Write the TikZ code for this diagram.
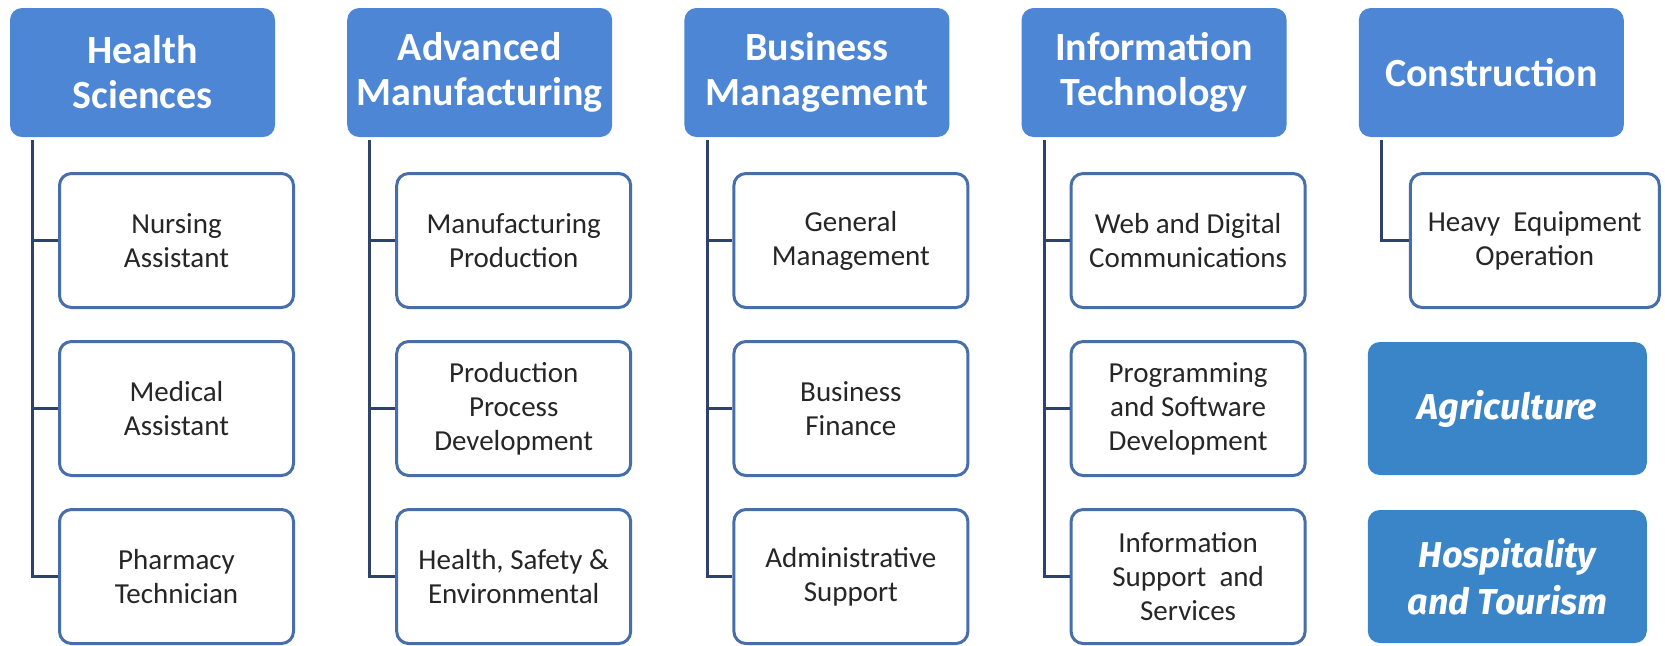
\documentclass[tikz,border=0pt]{standalone}
\usepackage{fontspec}
\setmainfont{Carlito}
\newfontfamily\extrafont{Fira Sans}
\usetikzlibrary{positioning}
\definecolor{headblue}{RGB}{76,134,212}
\definecolor{extrablue}{RGB}{58,132,200}
\definecolor{boxline}{RGB}{72,110,170}
\definecolor{linkline}{RGB}{46,66,106}
\definecolor{boxtext}{RGB}{38,38,38}
\tikzstyle{cluster} = [rectangle, rounded corners=6pt, minimum width=132.5pt, minimum height=64.5pt, inner sep=0pt, align=center, fill=headblue, text=white, font=\bfseries\fontsize{20}{22.5}\selectfont]
\tikzstyle{pathway} = [rectangle, rounded corners=6pt, minimum width=117pt, minimum height=67pt, inner sep=0pt, align=center, draw=boxline, line width=1.5pt, fill=white, text=boxtext, font=\fontsize{14.5}{17}\selectfont]
\tikzstyle{extra} = [rectangle, rounded corners=6pt, minimum width=139.5pt, minimum height=66.5pt, inner sep=0pt, align=center, fill=extrablue, text=white, font=\extrafont\bfseries\itshape\fontsize{18}{23.5}\selectfont]
\tikzstyle{link} = [line width=1.5pt, draw=linkline]

\begin{document}
\begin{tikzpicture}[node distance=84pt]
    \useasboundingbox (0,0) rectangle (832.5pt,-322.5pt);

    % Clusters
    \node (healthSci) [cluster] at (71.25pt,-36.25pt) {Health\\Sciences};
    \node (advManuf) [cluster, right of=healthSci, xshift=84.6pt] {Advanced\\Manufacturing};
    \node (busMgmt) [cluster, right of=advManuf, xshift=84.6pt] {Business\\Management};
    \node (infoTech) [cluster, right of=busMgmt, xshift=84.6pt] {Information\\Technology};
    \node (constr) [cluster, right of=infoTech, xshift=84.6pt] {Construction};

    % Pathways
    \node (healthSci1) [pathway, below of=healthSci, xshift=17pt] {Nursing\\Assistant};
    \node (healthSci2) [pathway, below of=healthSci1] {Medical\\Assistant};
    \node (healthSci3) [pathway, below of=healthSci2] {Pharmacy\\Technician};

    \node (advManuf1) [pathway, below of=advManuf, xshift=17pt] {Manufacturing\\Production};
    \node (advManuf2) [pathway, below of=advManuf1] {Production\\Process\\Development};
    \node (advManuf3) [pathway, below of=advManuf2] {Health, Safety \&\\Environmental};

    \node (busMgmt1) [pathway, below of=busMgmt, xshift=17pt] {General\\Management};
    \node (busMgmt2) [pathway, below of=busMgmt1] {Business\\Finance};
    \node (busMgmt3) [pathway, below of=busMgmt2] {Administrative\\Support};

    \node (infoTech1) [pathway, below of=infoTech, xshift=17pt] {Web and Digital\\Communications};
    \node (infoTech2) [pathway, below of=infoTech1] {Programming\\and Software\\Development};
    \node (infoTech3) [pathway, below of=infoTech2] {Information\\Support\ \ and\\Services};

    \node (constr1) [pathway, below of=constr, xshift=21.75pt, minimum width=124.5pt] {Heavy\ \ Equipment\\Operation};

    \node (agri) [extra, below of=constr1, xshift=-13.75pt] {Agriculture};
    \node (hospTour) [extra, below of=agri] {Hospitality\\and Tourism};

    % Links
    \foreach \col in {healthSci, advManuf, busMgmt, infoTech}
        \foreach \i in {1,2,3}
            \draw [link] ([xshift=11.5pt, yshift=-1.5pt]\col.south west) |- (\col\i.west);
    \draw [link] ([xshift=11.5pt, yshift=-1.5pt]constr.south west) |- (constr1.west);

\end{tikzpicture}
\end{document}
